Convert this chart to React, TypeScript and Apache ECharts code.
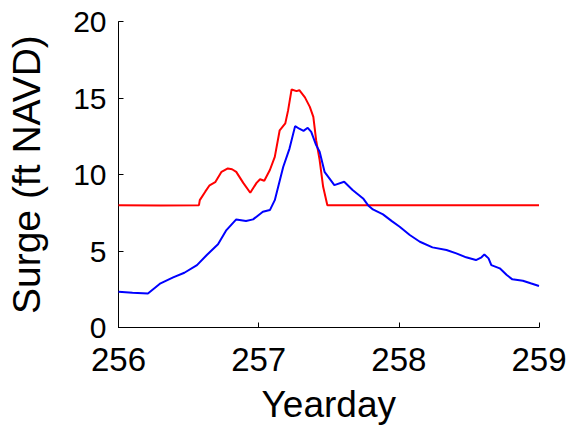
import React, { useEffect, useRef } from "react";
import * as echarts from "echarts";

const xTicks = [256, 257, 258, 259];
const yTicks = [0, 5, 10, 15, 20];

const redDays = [256.0, 256.3, 256.574, 256.58, 256.62, 256.65, 256.69, 256.735, 256.78, 256.81, 256.84, 256.89, 256.94, 256.985, 257.01, 257.04, 257.08, 257.115, 257.15, 257.19, 257.21, 257.235, 257.27, 257.29, 257.33, 257.365, 257.39, 257.41, 257.435, 257.46, 257.49, 259.0];
const redSurge = [8.0, 7.98, 8.0, 8.33, 8.9, 9.3, 9.5, 10.18, 10.4, 10.35, 10.18, 9.46, 8.81, 9.46, 9.7, 9.6, 10.3, 11.16, 12.9, 13.35, 14.2, 15.57, 15.46, 15.52, 15.05, 14.43, 13.78, 12.25, 10.95, 9.2, 8.0, 8.0];

const blueDays = [256.0, 256.1, 256.21, 256.3, 256.39, 256.47, 256.56, 256.63, 256.71, 256.77, 256.84, 256.91, 256.96, 257.03, 257.08, 257.115, 257.175, 257.22, 257.26, 257.29, 257.32, 257.35, 257.375, 257.41, 257.435, 257.47, 257.54, 257.61, 257.67, 257.745, 257.78, 257.815, 257.887, 257.95, 258.006, 258.078, 258.15, 258.24, 258.34, 258.41, 258.48, 258.55, 258.59, 258.61, 258.64, 258.66, 258.72, 258.77, 258.81, 258.885, 258.94, 259.0];
const blueSurge = [2.34, 2.28, 2.22, 2.89, 3.28, 3.58, 4.08, 4.74, 5.44, 6.37, 7.07, 6.96, 7.07, 7.57, 7.68, 8.33, 10.5, 11.7, 13.17, 13.0, 12.86, 13.06, 12.8, 11.93, 11.49, 10.18, 9.31, 9.53, 8.99, 8.44, 8.0, 7.72, 7.4, 6.96, 6.59, 6.05, 5.61, 5.24, 5.07, 4.85, 4.59, 4.41, 4.59, 4.78, 4.52, 4.08, 3.87, 3.43, 3.15, 3.06, 2.89, 2.71];

const xName = "Yearday";
const yName = "Surge (ft NAVD)";
const FONT = "'Liberation Sans', Arial, sans-serif";

export default function App() {
  const ref = useRef<HTMLDivElement>(null);
  useEffect(() => {
    if (!ref.current) return;
    const chart = echarts.init(ref.current, null, { renderer: "svg" });
    chart.setOption({
      animation: false,
      backgroundColor: "#ffffff",
      grid: { left: 118.5, right: 38, top: 21.7, bottom: 101.5, containLabel: false, outerBoundsMode: "none" },
      xAxis: {
        type: "value",
        min: xTicks[0],
        max: xTicks[xTicks.length - 1],
        interval: 1,
        name: xName,
        nameLocation: "middle",
        nameGap: 58,
        nameTextStyle: { fontFamily: FONT, fontSize: 37, color: "#000" },
        axisLine: { show: true, lineStyle: { color: "#000", width: 1 } },
        axisTick: { show: true, inside: true, length: 5, lineStyle: { color: "#000" } },
        axisLabel: { fontFamily: FONT, fontSize: 33, lineHeight: 26, color: "#000", margin: 18.5 },
        splitLine: { show: false },
      },
      yAxis: {
        type: "value",
        min: yTicks[0],
        max: yTicks[yTicks.length - 1],
        interval: 5,
        name: yName,
        nameLocation: "middle",
        nameGap: 73,
        nameRotate: 90,
        nameTextStyle: { fontFamily: FONT, fontSize: 39, color: "#000" },
        axisLine: { show: true, lineStyle: { color: "#000", width: 1 } },
        axisTick: { show: true, inside: true, length: 5, lineStyle: { color: "#000" } },
        axisLabel: { fontFamily: FONT, fontSize: 30, lineHeight: 22, color: "#000", margin: 12 },
        splitLine: { show: false },
      },
      series: [
        {
          type: "line",
          data: redDays.map((d, i) => [d, redSurge[i]]),
          showSymbol: false,
          lineStyle: { color: "#ff0000", width: 2 },
          itemStyle: { color: "#ff0000" },
        },
        {
          type: "line",
          data: blueDays.map((d, i) => [d, blueSurge[i]]),
          showSymbol: false,
          lineStyle: { color: "#0000ff", width: 2 },
          itemStyle: { color: "#0000ff" },
        },
      ],
    });
    return () => chart.dispose();
  }, []);
  return <div ref={ref} style={{ width: 577, height: 429, position: "absolute", left: 0, top: 0 }} />;
}
